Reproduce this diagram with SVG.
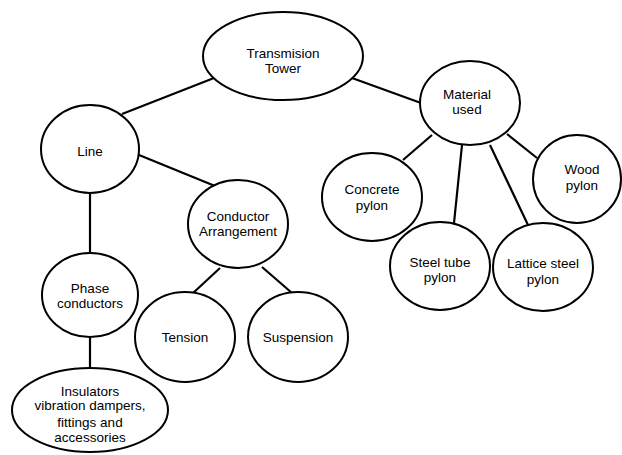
<svg xmlns="http://www.w3.org/2000/svg" width="622" height="455" viewBox="0 0 622 455">
  <style>
    .node { fill: #fff; stroke: #000; stroke-width: 2; }
    .edge { stroke: #000; stroke-width: 2.2; fill: none; }
    text { font-family: "Liberation Sans", Arial, sans-serif; font-size: 13.5px; fill: #000; text-anchor: middle; }
  </style>
  <rect width="622" height="455" fill="#fff"/>
  <g id="connectors">
    <line class="edge" x1="214" y1="78" x2="122" y2="114"/>
    <line class="edge" x1="352" y1="78" x2="421" y2="103"/>
    <line class="edge" x1="139" y1="155" x2="215" y2="186"/>
    <line class="edge" x1="90" y1="193" x2="90" y2="253"/>
    <line class="edge" x1="220" y1="268" x2="192" y2="294"/>
    <line class="edge" x1="262" y1="267" x2="292" y2="293"/>
    <line class="edge" x1="90" y1="337" x2="90" y2="368"/>
    <line class="edge" x1="432" y1="135" x2="403" y2="160"/>
    <line class="edge" x1="462" y1="145" x2="454" y2="223"/>
    <line class="edge" x1="490" y1="145" x2="528" y2="225"/>
    <line class="edge" x1="507" y1="134" x2="537" y2="158"/>
  </g>
  <g id="transmission-tower">
    <ellipse class="node" cx="283" cy="56" rx="80" ry="44"/>
    <text x="283" y="58">Transmision</text>
    <text x="283" y="73">Tower</text>
  </g>
  <g id="line">
    <ellipse class="node" cx="90" cy="149" rx="49" ry="44"/>
    <text x="90" y="156">Line</text>
  </g>
  <g id="conductor-arrangement">
    <ellipse class="node" cx="238" cy="224" rx="50" ry="44"/>
    <text x="238" y="221">Conductor</text>
    <text x="238" y="236">Arrangement</text>
  </g>
  <g id="phase-conductors">
    <ellipse class="node" cx="90" cy="295" rx="48" ry="42"/>
    <text x="90" y="293">Phase</text>
    <text x="90" y="308">conductors</text>
  </g>
  <g id="tension">
    <ellipse class="node" cx="185" cy="337" rx="50" ry="45"/>
    <text x="185" y="342">Tension</text>
  </g>
  <g id="suspension">
    <ellipse class="node" cx="298" cy="337" rx="50" ry="45"/>
    <text x="298" y="342">Suspension</text>
  </g>
  <g id="insulators">
    <ellipse class="node" cx="90" cy="410" rx="78" ry="42"/>
    <text x="90" y="396">Insulators</text>
    <text x="90" y="410">vibration dampers,</text>
    <text x="90" y="427">fittings and</text>
    <text x="90" y="442">accessories</text>
  </g>
  <g id="material-used">
    <ellipse class="node" cx="470" cy="103" rx="50" ry="42"/>
    <text x="467" y="99">Material</text>
    <text x="467" y="114">used</text>
  </g>
  <g id="concrete-pylon">
    <ellipse class="node" cx="372" cy="197" rx="50" ry="44"/>
    <text x="372" y="194">Concrete</text>
    <text x="372" y="210">pylon</text>
  </g>
  <g id="steel-tube-pylon">
    <ellipse class="node" cx="440" cy="266" rx="50" ry="44"/>
    <text x="440" y="267">Steel tube</text>
    <text x="440" y="282">pylon</text>
  </g>
  <g id="lattice-steel-pylon">
    <ellipse class="node" cx="543" cy="267" rx="50" ry="44"/>
    <text x="543" y="268">Lattice steel</text>
    <text x="543" y="284">pylon</text>
  </g>
  <g id="wood-pylon">
    <ellipse class="node" cx="577" cy="179" rx="44" ry="44"/>
    <text x="582" y="174">Wood</text>
    <text x="582" y="190">pylon</text>
  </g>
</svg>
